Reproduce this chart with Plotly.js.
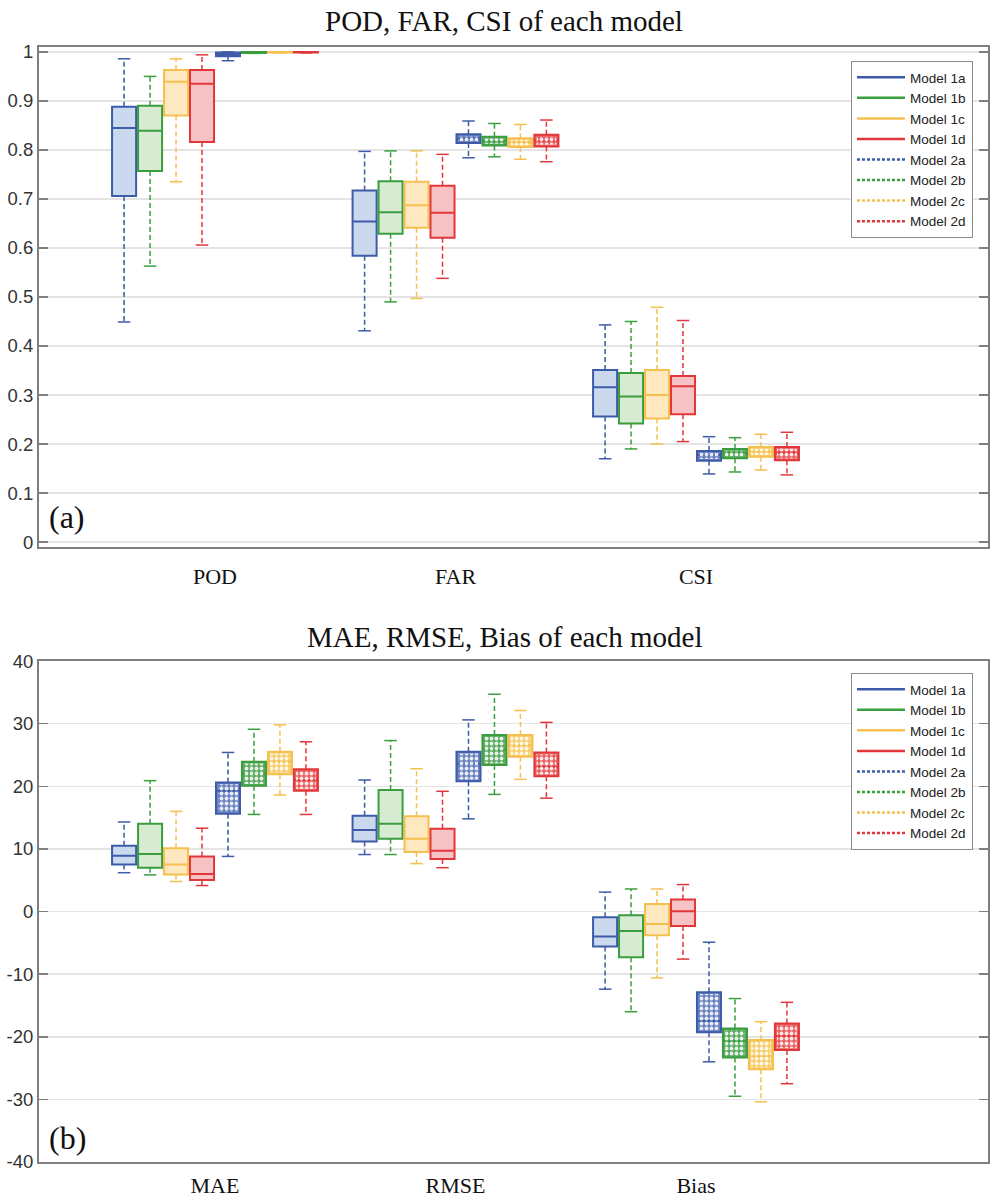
<!DOCTYPE html>
<html>
<head>
<meta charset="utf-8">
<script src="https://cdn.plot.ly/plotly-3.0.1.min.js"></script>
<style>
  html, body { margin: 0; padding: 0; background: #fff; }
  #chart { width: 1008px; height: 1199px; }
</style>
</head>
<body>
<div id="chart"></div>
<script>
// ---------------- DATA ----------------
const models = ['Model 1a', 'Model 1b', 'Model 1c', 'Model 1d', 'Model 2a', 'Model 2b', 'Model 2c', 'Model 2d'];
const topCategories = ['POD', 'FAR', 'CSI'];
const bottomCategories = ['MAE', 'RMSE', 'Bias'];
const topTickValues = [0, 0.1, 0.2, 0.3, 0.4, 0.5, 0.6, 0.7, 0.8, 0.9, 1];
const topTickLabels = ['0', '0.1', '0.2', '0.3', '0.4', '0.5', '0.6', '0.7', '0.8', '0.9', '1'];
const bottomTickValues = [-40, -30, -20, -10, 0, 10, 20, 30, 40];
const bottomTickLabels = ['-40', '-30', '-20', '-10', '0', '10', '20', '30', '40'];

// POD (order: 1a 1b 1c 1d 2a 2b 2c 2d)
const podLow  = [0.449, 0.563, 0.735, 0.606, 0.982, 0.997, 0.998, 0.998];
const podQ1   = [0.706, 0.757, 0.870, 0.816, 0.991, 0.998, 0.999, 0.999];
const podMed  = [0.845, 0.839, 0.939, 0.935, 0.995, 0.999, 0.999, 0.999];
const podQ3   = [0.888, 0.890, 0.963, 0.963, 0.999, 1.000, 1.000, 1.000];
const podHigh = [0.986, 0.950, 0.986, 0.994, 1.000, 1.000, 1.000, 1.000];
// FAR
const farLow  = [0.431, 0.490, 0.497, 0.538, 0.784, 0.786, 0.781, 0.776];
const farQ1   = [0.584, 0.629, 0.641, 0.621, 0.814, 0.809, 0.806, 0.807];
const farMed  = [0.654, 0.673, 0.687, 0.672, 0.823, 0.818, 0.815, 0.819];
const farQ3   = [0.717, 0.736, 0.735, 0.727, 0.832, 0.827, 0.824, 0.831];
const farHigh = [0.797, 0.798, 0.798, 0.791, 0.859, 0.854, 0.852, 0.861];
// CSI
const csiLow  = [0.170, 0.190, 0.200, 0.205, 0.139, 0.143, 0.147, 0.137];
const csiQ1   = [0.256, 0.242, 0.252, 0.261, 0.166, 0.171, 0.174, 0.167];
const csiMed  = [0.316, 0.297, 0.300, 0.318, 0.178, 0.181, 0.186, 0.182];
const csiQ3   = [0.351, 0.345, 0.351, 0.339, 0.186, 0.190, 0.194, 0.194];
const csiHigh = [0.443, 0.450, 0.479, 0.452, 0.215, 0.213, 0.220, 0.224];
// MAE
const maeLow  = [6.2, 5.85, 4.8, 4.15, 8.8, 15.5, 18.6, 15.5];
const maeQ1   = [7.5, 7.0, 5.9, 5.05, 15.6, 20.1, 21.9, 19.3];
const maeMed  = [8.9, 9.2, 7.5, 6.0, 19.3, 22.0, 23.9, 21.0];
const maeQ3   = [10.5, 14.0, 10.1, 8.8, 20.6, 23.9, 25.5, 22.7];
const maeHigh = [14.3, 20.9, 16.0, 13.3, 25.4, 29.1, 29.8, 27.1];
// RMSE
const rmseLow  = [9.1, 9.1, 7.65, 7.0, 14.8, 18.7, 21.1, 18.1];
const rmseQ1   = [11.2, 11.6, 9.5, 8.4, 20.8, 23.4, 24.7, 21.6];
const rmseMed  = [13.0, 14.0, 11.6, 9.7, 23.6, 25.9, 26.6, 23.1];
const rmseQ3   = [15.3, 19.4, 15.2, 13.2, 25.5, 28.2, 28.2, 25.4];
const rmseHigh = [21.0, 27.3, 22.8, 19.2, 30.6, 34.7, 32.1, 30.2];
// Bias
const biasLow  = [-12.4, -16.0, -10.6, -7.6, -24.0, -29.5, -30.4, -27.5];
const biasQ1   = [-5.6, -7.3, -3.8, -2.3, -19.3, -23.3, -25.2, -22.1];
const biasMed  = [-4.0, -3.1, -2.0, 0.05, -17.5, -20.7, -23.2, -19.9];
const biasQ3   = [-0.9, -0.6, 1.2, 1.9, -12.9, -18.7, -20.5, -17.9];
const biasHigh = [3.1, 3.6, 3.6, 4.3, -4.9, -13.9, -17.6, -14.5];

// ---------------- STYLE ----------------
const lineColors = ['#3d5ba9', '#3a9e3f', '#f5c04f', '#e2373a', '#3d5ba9', '#3a9e3f', '#f5c04f', '#e2373a'];
const fillColors = ['#cbd9ef', '#d6ebd2', '#fde8c0', '#f7c2c3', '#6c83c2', '#5eab63', '#f7cd6e', '#e96264'];
const groupPos = [1, 2, 3];
const step = 0.108;
const boxW = 0.1;
const capHalf = 0.026;
const inset = 0.009;

const panels = [
  { xa: 'x', ya: 'y', legend: 'legend', yspan: 1.02,
    stats: [
      { low: podLow, q1: podQ1, med: podMed, q3: podQ3, high: podHigh },
      { low: farLow, q1: farQ1, med: farMed, q3: farQ3, high: farHigh },
      { low: csiLow, q1: csiQ1, med: csiMed, q3: csiQ3, high: csiHigh }
    ] },
  { xa: 'x2', ya: 'y2', legend: 'legend2', yspan: 80,
    stats: [
      { low: maeLow, q1: maeQ1, med: maeMed, q3: maeQ3, high: maeHigh },
      { low: rmseLow, q1: rmseQ1, med: rmseMed, q3: rmseQ3, high: rmseHigh },
      { low: biasLow, q1: biasQ1, med: biasMed, q3: biasQ3, high: biasHigh }
    ] }
];

const traces = [];
panels.forEach(p => {
  const yIn = p.yspan * 0.0035;
  models.forEach((name, i) => {
    const xs = groupPos.map(g => g + (i - 3.5) * step);
    const q1 = p.stats.map(s => s.q1[i]);
    const q3 = p.stats.map(s => s.q3[i]);
    const med = p.stats.map(s => s.med[i]);
    const lo = p.stats.map(s => s.low[i]);
    const hi = p.stats.map(s => s.high[i]);
    // whiskers (dashed) and caps
    const wx = [], wy = [], cx = [], cy = [];
    xs.forEach((x, k) => {
      wx.push(x, x, null, x, x, null);
      wy.push(q3[k], hi[k], null, q1[k], lo[k], null);
      cx.push(x - capHalf, x + capHalf, null, x - capHalf, x + capHalf, null);
      cy.push(hi[k], hi[k], null, lo[k], lo[k], null);
    });
    traces.push({
      type: 'scatter', mode: 'lines', x: wx, y: wy, xaxis: p.xa, yaxis: p.ya,
      line: { color: lineColors[i], width: 1.5, dash: '5px,3px' },
      showlegend: false, hoverinfo: 'skip'
    });
    traces.push({
      type: 'scatter', mode: 'lines', x: cx, y: cy, xaxis: p.xa, yaxis: p.ya,
      line: { color: lineColors[i], width: 1.5 },
      showlegend: false, hoverinfo: 'skip'
    });
    traces.push({
      type: 'box', name: name, x: xs, q1: q1, median: med, q3: q3,
      lowerfence: q1, upperfence: q3, width: boxW, whiskerwidth: 0,
      boxpoints: false, xaxis: p.xa, yaxis: p.ya,
      line: { color: lineColors[i], width: 2 }, fillcolor: fillColors[i],
      showlegend: false, hoverinfo: 'skip'
    });
    // dotted texture on the Model 2 boxes
    if (i >= 4) {
      const px = [], py = [];
      xs.forEach((x, k) => {
        if (q3[k] - q1[k] <= 2 * yIn) return;
        const a = x - boxW / 2 + inset, b = x + boxW / 2 - inset;
        px.push(a, b, b, a, a, null);
        py.push(q1[k] + yIn, q1[k] + yIn, q3[k] - yIn, q3[k] - yIn, q1[k] + yIn, null);
      });
      traces.push({
        type: 'scatter', mode: 'lines', x: px, y: py, xaxis: p.xa, yaxis: p.ya,
        fill: 'toself', fillcolor: 'rgba(0,0,0,0)', line: { width: 0, color: 'rgba(0,0,0,0)' },
        fillpattern: { shape: '.', fgcolor: 'rgba(255,255,255,0.85)', bgcolor: 'rgba(0,0,0,0)', size: 5, solidity: 0.45 },
        showlegend: false, hoverinfo: 'skip'
      });
    }
  });
  // legend keys (lines, as in the original)
  models.forEach((name, i) => {
    traces.push({
      type: 'scatter', mode: 'lines', name: name, x: [null], y: [null],
      xaxis: p.xa, yaxis: p.ya, legend: p.legend,
      line: { color: lineColors[i], width: 2.5, dash: i < 4 ? 'solid' : '3px,2px' },
      hoverinfo: 'skip'
    });
  });
});

const tickFont = { family: 'Liberation Sans, Arial, sans-serif', size: 18.5, color: '#333' };
const catFont = { family: 'Liberation Serif, Times New Roman, serif', size: 22, color: '#111' };
const frame = '#7f7f7f';

function xAxis(anchor, cats, standoff) {
  return {
    anchor: anchor, range: [0.2682, 4.2141], tickmode: 'array', tickvals: groupPos, ticktext: cats,
    ticks: '', showgrid: false, zeroline: false, showline: true, mirror: true,
    linecolor: frame, linewidth: 2, tickfont: catFont, ticklabelstandoff: standoff, fixedrange: true
  };
}
function yAxis(anchor, domain, range, vals, labels) {
  return {
    anchor: anchor, domain: domain, range: range, tickmode: 'array', tickvals: vals, ticktext: labels,
    ticks: 'inside', ticklen: 9, tickwidth: 1.5, tickcolor: frame, showline: true, mirror: 'ticks',
    linecolor: frame, linewidth: 2, showgrid: true, gridcolor: '#e4e4e4', gridwidth: 1.5,
    zeroline: false, tickfont: tickFont, fixedrange: true
  };
}

const legendStyle = (y) => ({
  x: 0.8556, y: y, xanchor: 'left', yanchor: 'top', bgcolor: '#ffffff',
  bordercolor: '#8a8a8a', borderwidth: 1, itemwidth: 48, tracegroupgap: 0,
  font: { family: 'Liberation Sans, Arial, sans-serif', size: 13.5, color: '#222' }
});

const titleFont = { family: 'Liberation Serif, Times New Roman, serif', size: 29, color: '#111' };
const labelFont = { family: 'Liberation Serif, Times New Roman, serif', size: 32, color: '#111' };

const layout = {
  width: 1008, height: 1199,
  margin: { l: 39, r: 20, t: 47, b: 37 },
  paper_bgcolor: '#fff', plot_bgcolor: '#fff',
  showlegend: true,
  boxmode: 'overlay',
  xaxis: xAxis('y', topCategories, 9),
  yaxis: yAxis('x', [0.5516, 1], [-0.01, 1.01], topTickValues, topTickLabels),
  xaxis2: xAxis('y2', bottomCategories, 3),
  yaxis2: yAxis('x2', [0, 0.4493], [-40, 40], bottomTickValues, bottomTickLabels),
  legend: legendStyle(0.9874),
  legend2: legendStyle(0.4386),
  annotations: [
    { text: 'POD, FAR, CSI of each model', xref: 'paper', yref: 'paper', x: 0.49, y: 1.0233,
      xanchor: 'center', yanchor: 'middle', showarrow: false, font: titleFont },
    { text: 'MAE, RMSE, Bias of each model', xref: 'paper', yref: 'paper', x: 0.49, y: 0.4709,
      xanchor: 'center', yanchor: 'middle', showarrow: false, font: titleFont },
    { text: '(a)', xref: 'paper', yref: 'paper', x: 0.0084, y: 0.5785,
      xanchor: 'left', yanchor: 'middle', showarrow: false, font: labelFont },
    { text: '(b)', xref: 'paper', yref: 'paper', x: 0.0084, y: 0.0215,
      xanchor: 'left', yanchor: 'middle', showarrow: false, font: labelFont }
  ]
};

Plotly.newPlot('chart', traces, layout, { displayModeBar: false, staticPlot: true });
</script>
</body>
</html>
